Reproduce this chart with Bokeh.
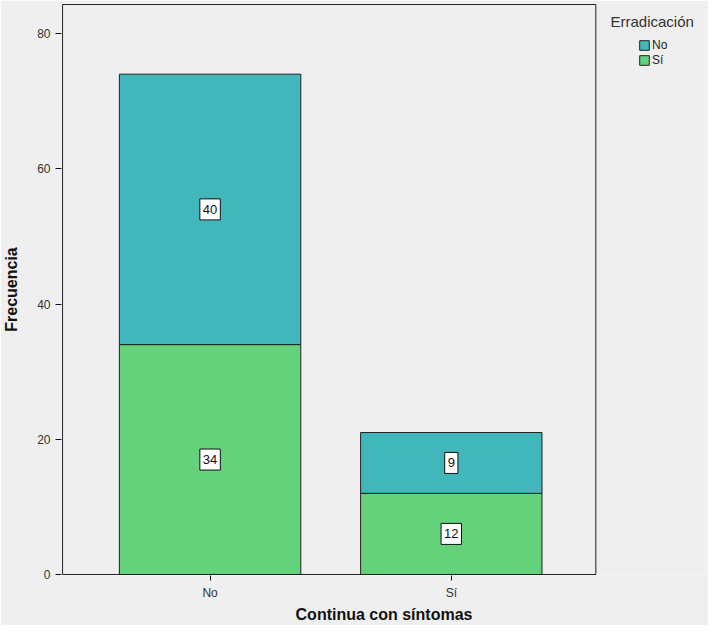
from bokeh.plotting import figure
from bokeh.models import (ColumnDataSource, Range1d, Legend, LegendItem,
                          Label, FixedTicker, BoxAnnotation)
from bokeh.core.properties import value
from bokeh.embed import file_html
from bokeh.resources import INLINE

categories = ["No", "Sí"]
erradicacion_no = [40, 9]
erradicacion_si = [34, 12]
y_ticks = [0, 20, 40, 60, 80]
series_names = ["No", "Sí"]

TEAL = "#42b7bb"
GREEN = "#64d27b"
BG = "#efefef"
FONT = "Liberation Sans"

xpos = [i + 1 for i in range(len(categories))]
src = ColumnDataSource(dict(x=xpos, si=erradicacion_si, no=erradicacion_no))

p = figure(x_range=Range1d(0.384, 3.058), y_range=Range1d(-0.15, 84.45),
           width=708, height=625, output_backend="svg", toolbar_location=None,
           min_border_left=60, min_border_right=2, min_border_top=3, min_border_bottom=49)

p.background_fill_color = BG
p.border_fill_color = BG
p.outline_line_color = None
p.xgrid.visible = False
p.ygrid.visible = False

# visible plot box (axes frame) drawn as an annotation so the legend can live beside it
p.add_layout(BoxAnnotation(left=0.3884, right=2.5992, bottom=0, top=84.3,
                           fill_alpha=0, line_color="#222222", line_alpha=1.0,
                           line_width=1, level="overlay"))

rs = p.vbar_stack(["si", "no"], x="x", width=0.752, color=[GREEN, TEAL],
                  line_color="#222222", line_width=1, source=src)

# value labels at segment centres
lab_x, lab_y, lab_txt = [], [], []
for xv, s, n in zip(xpos, erradicacion_si, erradicacion_no):
    lab_x += [xv, xv]
    lab_y += [s / 2, s + n / 2]
    lab_txt += [str(s), str(n)]
lsrc = ColumnDataSource(dict(x=lab_x, y=lab_y, text=lab_txt))
p.text(x="x", y="y", text="text", source=lsrc, text_align="center",
       text_baseline="middle", text_font_size="13px", text_font=value(FONT),
       text_color="#111111", background_fill_color="white",
       border_line_color="#111111", border_line_width=1,
       padding=dict(left=3, right=3, top=6, bottom=6))

# axes
for ax in (p.xaxis[0], p.yaxis[0]):
    ax.axis_line_color = None
    ax.major_tick_line_color = "#111111"
    ax.major_tick_in = 0
    ax.minor_tick_line_color = None
    ax.major_label_text_font = FONT
    ax.major_label_text_font_size = "12px"
    ax.major_label_text_color = "#333333"
    ax.axis_label_text_font = FONT
    ax.axis_label_text_font_style = "bold"
    ax.axis_label_text_font_size = "16px"
    ax.axis_label_text_color = "#111111"

p.yaxis.ticker = FixedTicker(ticks=y_ticks)
p.yaxis.major_tick_out = 6
p.yaxis.major_label_standoff = 5
p.yaxis.axis_label = "Frecuencia"
p.yaxis.axis_label_standoff = 14

p.xaxis.ticker = FixedTicker(ticks=xpos)
p.xaxis.major_label_overrides = {xv: c for xv, c in zip(xpos, categories)}
p.xaxis.major_tick_out = 5
p.xaxis.major_label_standoff = 5
p.xaxis.axis_label = "Continua con síntomas"
p.xaxis.axis_label_standoff = 3

# legend
legend = Legend(items=[LegendItem(label=series_names[0], renderers=[rs[1]]),
                       LegendItem(label=series_names[1], renderers=[rs[0]])],
                location=(577, 508))
legend.background_fill_alpha = 0
legend.border_line_color = None
legend.padding = 0
legend.margin = 0
legend.spacing = 1
legend.glyph_width = 12
legend.glyph_height = 12
legend.label_height = 12
legend.label_standoff = 2
legend.label_text_font = FONT
legend.label_text_font_size = "12px"
legend.label_text_color = "#222222"
p.add_layout(legend, "center")

p.add_layout(Label(x=549, y=554, x_units="screen", y_units="screen", text="Erradicación",
                   text_font=FONT, text_font_size="15px", text_color="#333333",
                   text_baseline="middle", text_align="left"))

open("out.html", "w").write(file_html(p, INLINE))
